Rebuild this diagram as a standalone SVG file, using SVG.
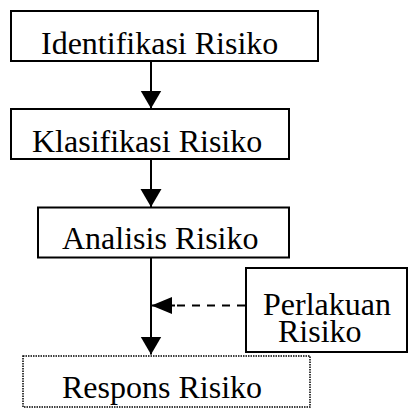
<svg xmlns="http://www.w3.org/2000/svg" width="409" height="408" viewBox="0 0 409 408">
<style>
.box{fill:#fff;stroke:#000;stroke-width:2}
.dot{fill:#fff;stroke:#000;stroke-width:1.5;stroke-dasharray:1.5,1}
.lbl{font-family:"Liberation Serif","Times New Roman",serif;font-size:32px;fill:#000}
.conn{stroke:#000;stroke-width:2;fill:none}
</style>
<defs>
<marker id="ah" markerUnits="userSpaceOnUse" markerWidth="18" markerHeight="22" refX="18" refY="10.5" orient="auto">
<path d="M0,0 L18,10.5 L0,21 z" fill="#000"/>
</marker>
<marker id="ah2" markerUnits="userSpaceOnUse" markerWidth="21" markerHeight="18" refX="20.5" refY="8.5" orient="auto">
<path d="M0,0 L20.5,8.5 L0,17 z" fill="#000"/>
</marker>
</defs>
<g id="connectors">
<line class="conn" x1="151" y1="61" x2="151" y2="108.5" marker-end="url(#ah)"/>
<line class="conn" x1="151" y1="159" x2="151" y2="207" marker-end="url(#ah)"/>
<line class="conn" x1="151" y1="258" x2="151" y2="354.5" marker-end="url(#ah)"/>
<line class="conn" x1="245" y1="305.5" x2="172" y2="305.5" stroke-dasharray="8,7"/>
<line class="conn" x1="175" y1="305.5" x2="151.5" y2="305.5" marker-end="url(#ah2)"/>
</g>
<g id="identifikasi">
<rect class="box" x="11" y="11" width="307" height="50"/>
<text class="lbl" x="41" y="54">Identifikasi Risiko</text>
</g>
<g id="klasifikasi">
<rect class="box" x="11" y="109" width="278" height="50"/>
<text class="lbl" x="32" y="152">Klasifikasi Risiko</text>
</g>
<g id="analisis">
<rect class="box" x="38" y="207.5" width="251" height="50"/>
<text class="lbl" x="62" y="249">Analisis Risiko</text>
</g>
<g id="perlakuan">
<rect class="box" x="246" y="268" width="161" height="84"/>
<text class="lbl" x="263" y="315">Perlakuan</text>
<text class="lbl" x="278" y="342">Risiko</text>
</g>
<g id="respons">
<rect class="dot" x="23" y="356" width="287" height="51"/>
<text class="lbl" x="62" y="398">Respons Risiko</text>
</g>
</svg>
